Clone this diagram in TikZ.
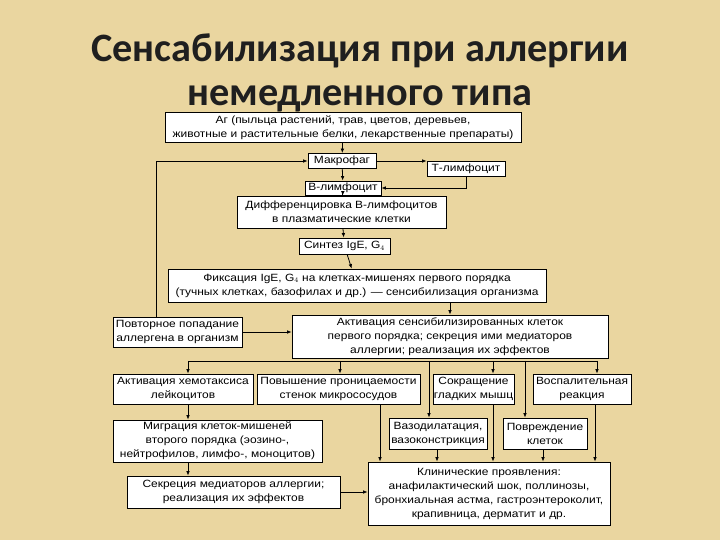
\documentclass[tikz,border=0pt]{standalone}
\usepackage{fontspec}
\setsansfont{Liberation Sans}[FakeStretch=1.14]
\newfontfamily\titlefont{Carlito}
\usetikzlibrary{arrows.meta}
\definecolor{parch}{RGB}{234,214,160}

\begin{document}
\begin{tikzpicture}[x=1pt,y=-1pt,line width=.8pt,>={Latex[length=4.5pt,width=3.6pt]},
 blk/.style={draw,fill=white,inner xsep=.5pt,inner ysep=1pt,align=center,font=\sffamily\fontsize{10.5}{14}\selectfont},
 ttl/.style={anchor=base,text=black!88,font=\titlefont\bfseries\fontsize{40.3}{40}\selectfont}]
\fill[parch] (0,0) rectangle (720,540);
\useasboundingbox (0,0) rectangle (720,540);
\node[ttl] (title1) at (360,62) {Сенсабилизация при аллергии};
\node[ttl] (title2) at (360,106) {немедленного типа};
% upper chain
\node[blk,minimum width=356pt,minimum height=30pt] (ag) at (343,127.5) {Аг (пыльца растений, трав, цветов, деревьев,\\животные и растительные белки, лекарственные препараты)};
\node[blk,minimum width=68pt,minimum height=15pt] (makro) at (342,161) {Макрофаг};
\node[blk,minimum width=78pt,minimum height=15pt] (tlym) at (466,168.5) {Т-лимфоцит};
\node[blk,minimum width=76pt,minimum height=14pt] (blym) at (343,188) {В-лимфоцит};
\node[blk,minimum width=209pt,minimum height=32pt] (diff) at (341.5,212) {Дифференцировка В-лимфоцитов\\в плазматические клетки};
\node[blk,minimum width=91pt,minimum height=16pt] (sint) at (344.5,246) {Синтез IgE, G$_4$};
\node[blk,minimum width=378pt,minimum height=33pt] (fix) at (357,285.5) {Фиксация IgE, G$_4$ на клетках-мишенях первого порядка\\(тучных клетках, базофилах и др.) — сенсибилизация организма};
\foreach \a/\b in {ag/makro,makro/blym,blym/diff,diff/sint,sint/fix}{\draw[->] (\a)--(\b);}
\draw[->] (makro.east) -- (makro.east -| tlym.west);
\draw[->] (tlym.south) |- (blym.east);
% second order
\node[blk,minimum width=129pt,minimum height=30pt] (povt) at (177.5,332) {Повторное попадание\\аллергена в организм};
\node[blk,minimum width=316pt,minimum height=43pt] (act) at (450,336.5) {Активация сенсибилизированных клеток\\первого порядка; секреция ими медиаторов\\аллергии; реализация их эффектов};
\draw[->] (act.north |- fix.south) -- (act.north);
\draw[->] (povt.east) -- (povt.east -| act.west);
\draw[->] ([xshift=-21.5pt]povt.north) |- (makro.west);
\node[blk,minimum width=140pt,minimum height=30pt] (hemo) at (183,389) {Активация хемотаксиса\\лейкоцитов};
\node[blk,minimum width=163pt,minimum height=30pt] (perm) at (338.5,389) {Повышение проницаемости\\стенок микрососудов};
\node[blk,minimum width=81pt,minimum height=30pt] (sokr) at (473.5,389) {Сокращение\\гладких мышц};
\node[blk,minimum width=98pt,minimum height=30pt] (vosp) at (582,389) {Воспалительная\\реакция};
\node[blk,minimum width=98pt,minimum height=31pt] (vazo) at (438,433.5) {Вазодилатация,\\вазоконстрикция};
\node[blk,minimum width=84pt,minimum height=31pt] (povr) at (545,433.5) {Повреждение\\клеток};
\node[blk,minimum width=209pt,minimum height=42pt] (mig) at (217.5,441) {Миграция клеток-мишеней\\второго порядка (эозино-,\\нейтрофилов, лимфо-, моноцитов)};
\node[blk,minimum width=213pt,minimum height=32pt] (sekr) at (233.5,492) {Секреция медиаторов аллергии;\\реализация их эффектов};
\node[blk,minimum width=242pt,minimum height=63pt] (klin) at (489,493.5) {Клинические проявления:\\анафилактический шок, поллинозы,\\бронхиальная астма, гастроэнтероколит,\\крапивница, дерматит и др.};
\coordinate (bus) at ([yshift=-2.5pt]act.south);
\draw (188,0 |- bus) -- (597,0 |- bus);
\foreach \x/\n in {188/hemo,340/perm,493/sokr,597/vosp,429/vazo,525/povr}{\draw[->] (\x,0 |- bus) -- (\x,0 |- \n.north);}
\foreach \x/\n in {380/perm,437/vazo,493/sokr,543/povr,595/vosp}{\draw[->] (\x,0 |- \n.south) -- (\x,0 |- klin.north);}
\draw[->] (188,0 |- hemo.south) -- (188,0 |- mig.north);
\draw[->] (188,0 |- mig.south) -- (188,0 |- sekr.north);
\draw[->] (sekr.east) -- (sekr.east -| klin.west);
\end{tikzpicture}
\end{document}
